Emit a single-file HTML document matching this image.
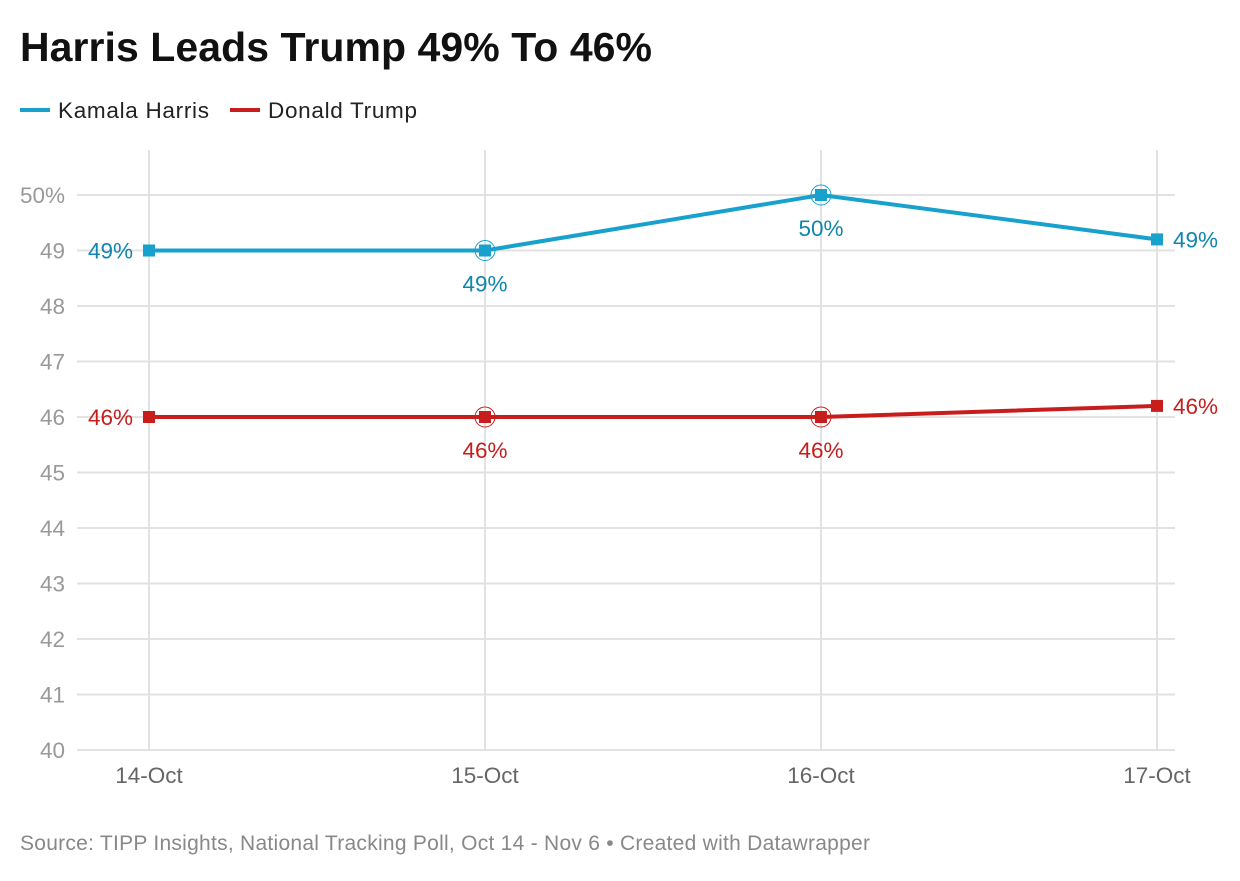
<!DOCTYPE html>
<html><head><meta charset="utf-8"><style>
body{margin:0;background:#fff;width:1240px;height:876px;overflow:hidden;font-family:"Liberation Sans",sans-serif}
</style></head><body>
<svg id="c" width="1240" height="876">
<text x="20" y="61" font-size="41" font-weight="bold" fill="#111" textLength="632">Harris Leads Trump 49% To 46%</text>
<g>
<line x1="20" y1="110" x2="50" y2="110" stroke="#18a1cd" stroke-width="4"/>
<text x="58" y="118" font-size="22.5" fill="#222" textLength="151">Kamala Harris</text>
<line x1="230" y1="110" x2="260" y2="110" stroke="#c71e1d" stroke-width="4"/>
<text x="268" y="118" font-size="22.5" fill="#222" textLength="149">Donald Trump</text>
</g>
<g id="plot"></g>
<text x="20" y="850" font-size="21" fill="#888" textLength="850">Source: TIPP Insights, National Tracking Poll, Oct 14 - Nov 6 • Created with Datawrapper</text>
</svg>
<script>
const categories=["14-Oct","15-Oct","16-Oct","17-Oct"];
const harris=[49,49,50,49.2];
const trump=[46,46,46,46.2];
const harrisLabels=["49%","49%","50%","49%"];
const trumpLabels=["46%","46%","46%","46%"];
const yTicks=[40,41,42,43,44,45,46,47,48,49,50];
const NS="http://www.w3.org/2000/svg";
const g=document.getElementById('plot');
const x=i=>149+i*(1157-149)/(categories.length-1);
const y=v=>750-(v-40)*55.5;
function mk(t,a,p){const e=document.createElementNS(NS,t);for(const k in a)e.setAttribute(k,a[k]);(p||g).appendChild(e);return e;}
categories.forEach((c,i)=>{
 const l=mk('line',{x1:x(i),x2:x(i),y1:150,y2:750,stroke:'#e2e2e2','stroke-width':2});
 
 
 const t=mk('text',{x:x(i),y:783,'font-size':22.5,fill:'#666','text-anchor':'middle'});t.textContent=c;
 
 
});
yTicks.forEach(v=>{
 const l=mk('line',{x1:77,x2:1175,y1:y(v),y2:y(v),stroke:'#e2e2e2','stroke-width':2});
 
 
 const t=mk('text',{x:65,y:y(v)+8,'font-size':22.5,fill:'#999','text-anchor':'end'});t.textContent=v===50?'50%':v;
 
 
});
function series(vals,labs,col,tcol,name){
 const p=mk('polyline',{points:vals.map((v,i)=>x(i)+','+y(v)).join(' '),fill:'none',stroke:col,'stroke-width':4});
 
 
 vals.forEach((v,i)=>{
  if(i===1||i===2){const c=mk('circle',{cx:x(i),cy:y(v),r:10,fill:'none',stroke:col,'stroke-width':1});}
  const r=mk('rect',{x:x(i)-6,y:y(v)-6,width:12,height:12,fill:col});
  
  
  let tx,ty,anc;
  if(i===0){tx=x(i)-16;ty=y(v)+8;anc='end';}
  else if(i===categories.length-1){tx=x(i)+16;ty=y(v)+8;anc='start';}
  else{tx=x(i);ty=y(v)+41;anc='middle';}
  const t=mk('text',{x:tx,y:ty,'font-size':22.5,fill:tcol,'text-anchor':anc});t.textContent=labs[i];
  
  
 });
}
series(harris,harrisLabels,'#18a1cd','#0f86ad','harris');
series(trump,trumpLabels,'#c71e1d','#c71e1d','trump');
</script>
</body></html>
